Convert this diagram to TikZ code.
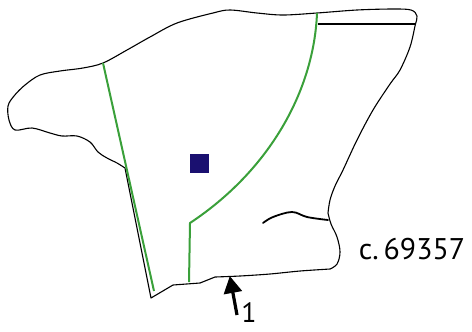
\documentclass[tikz,border=0pt]{standalone}
\usepackage{fontspec}
\setmainfont{PT Sans}
\usetikzlibrary{arrows.meta}
\definecolor{ridgegreen}{RGB}{58,160,58}
\definecolor{markblue}{RGB}{26,16,112}
\tikzset{outline/.style = {draw, black, line width=1.1bp, line join=round},
         seam/.style = {draw, ridgegreen, line width=2bp},
         rim/.style = {draw, black, line width=2.6bp},
         crest/.style = {draw, black, line width=1.8bp, line cap=round},
         label/.style = {font=\fontsize{30}{34}\selectfont, inner sep=0pt},
         pointer/.style = {-{Triangle[length=17bp,width=18bp]}, line width=3.2bp, shorten >=-1bp}}

\begin{document}
\begin{tikzpicture}[x=1bp,y=-1bp]
        \useasboundingbox (0,0) rectangle (472,331);

        \draw[outline]
            plot[smooth, tension=0.55] coordinates {(125,168) (117,163) (107,158) (98,152) (90,142) (77,136) (62,136) (50,133) (32,128) (15,130) (9,120) (8,106) (14,96) (25,85) (40,75) (60,71) (83,68) (103,63) (127,50) (150,37) (177,23) (213,13) (230,10) (257,13) (283,15) (317,13) (357,10) (393,9) (411,10) (417,16) (415,26) (410,47) (400,70) (390,84) (373,110) (357,140) (343,170) (335,186) (330,200) (328,213)}
            -- plot[smooth, tension=0.6] coordinates {(328,213) (331,224) (337,237) (340,252) (337,264) (330,269)}
            -- plot[smooth, tension=0.5] coordinates {(330,269) (300,271) (270,274) (240,276) (215,277)}
            -- (200,283) -- (173,285) -- (151,298) -- cycle;

        \draw[seam] (103,63) -- (154,291);
        \draw[seam] (317,13) .. controls (314,90) and (270,170) .. (190,223) -- (189,282);

        \draw[rim] (318,24) -- (416,24);
        \draw[crest] plot[smooth, tension=0.6] coordinates {(263,223) (273,217) (292,212) (307,217) (328,220)};

        \fill[markblue] (190,154) rectangle (209,173);

        \coordinate (tail) at (237,315);
        \coordinate (tip) at (230,277);
        \draw[pointer] (tail) -- (tip);
        \node[label, font=\fontsize{28}{32}\selectfont] (one) at (249,313) {1};
        \node[label] (cat) at (412,249) {c.\,69357};
    \end{tikzpicture}
\end{document}
